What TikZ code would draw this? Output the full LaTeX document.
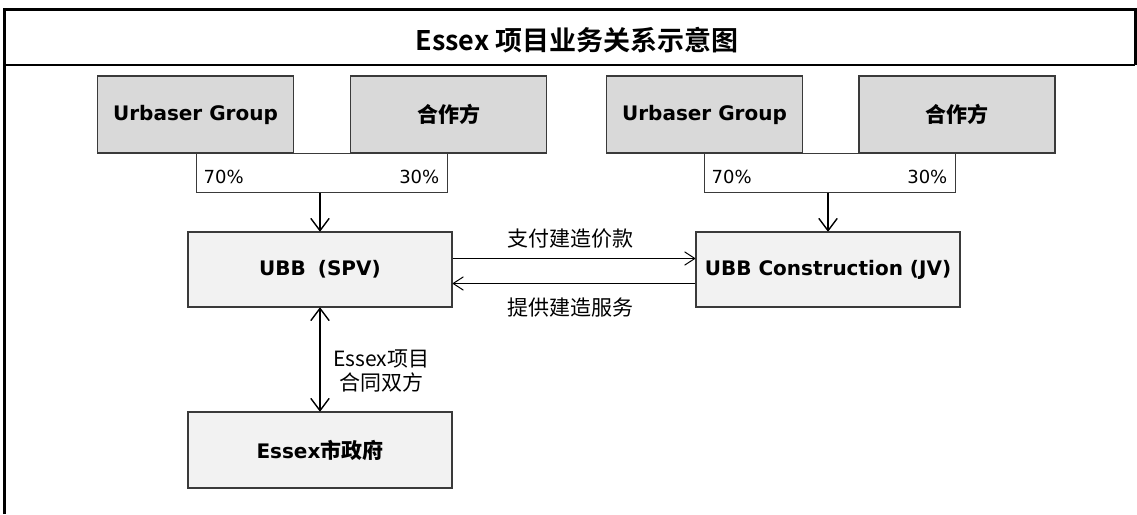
\documentclass[tikz,border=0pt]{standalone}
\usepackage{fontspec}
\setmainfont{DejaVu Sans}
\newfontfamily\cjk{Noto Sans CJK SC}
\newfontfamily\cjkb{Noto Sans CJK SC Bold}
\usetikzlibrary{arrows.meta}
\definecolor{topfill}{HTML}{D9D9D9}
\definecolor{midfill}{HTML}{F2F2F2}
\definecolor{boxline}{HTML}{3A3A3A}
\begin{document}
\begin{tikzpicture}[x=1pt,y=-1pt,
  topbox/.style={draw=boxline,line width=1.3pt,fill=topfill,minimum width=196pt,minimum height=77pt,inner sep=0pt,font=\fontsize{20}{22}\selectfont\bfseries},
  midbox/.style={draw=boxline,line width=1.3pt,fill=midfill,minimum width=264pt,minimum height=75pt,inner sep=0pt,font=\fontsize{20}{22}\selectfont\bfseries},
  pctbox/.style={draw=boxline,line width=1pt,fill=white,minimum width=251pt,minimum height=39pt,inner sep=0pt},
  pct/.style={font=\fontsize{18}{20}\selectfont,inner sep=0pt},
  lbl/.style={font=\cjk\fontsize{21}{24}\selectfont,inner sep=0pt,align=center},
  vline/.style={line width=1.4pt},
  hline/.style={line width=1pt},
]
\tikzset{
  vtip/.tip={Straight Barb[length=12pt,width=18pt,round]},
  htip/.tip={Straight Barb[length=10pt,width=13pt,round]},
}
\useasboundingbox (0,0) rectangle (1137,514);
% frame
\draw[line width=3pt] (4,514) -- (4,9) -- (1135,9) -- (1135,65);
\draw[line width=2pt] (4,65) -- (1135,65);
\node (title) at (577,40) {\cjkb\fontsize{27}{30}\selectfont Essex 项目业务关系示意图};
% top boxes
\node[topbox] (ug1) at (195.5,114.5) {Urbaser Group};
\node[topbox] (hz1) at (448.5,114.5) {\cjkb\fontsize{21}{23}\selectfont 合作方};
\node[topbox] (ug2) at (704.5,114.5) {Urbaser Group};
\node[topbox] (hz2) at (957,114.5) {\cjkb\fontsize{21}{23}\selectfont 合作方};
% percentage boxes
\node[pctbox] (pb1) at (321.5,172.5) {};
\node[pctbox] (pb2) at (829.5,172.5) {};
\node[pct,anchor=west] (p70a) at ([xshift=8pt,yshift=-4pt]pb1.west) {70\%};
\node[pct,anchor=east] (p30a) at ([xshift=-8pt,yshift=-4pt]pb1.east) {30\%};
\node[pct,anchor=west] (p70b) at ([xshift=8pt,yshift=-4pt]pb2.west) {70\%};
\node[pct,anchor=east] (p30b) at ([xshift=-8pt,yshift=-4pt]pb2.east) {30\%};
% middle boxes
\node[midbox] (spv) at (320,269.5) {UBB\hspace{0.6em}(SPV)};
\node[midbox] (jv) at (828,269.5) {UBB Construction (JV)};
\node[midbox,minimum height=76pt] (gov) at (320,450) {Essex{\cjkb\fontsize{21}{23}\selectfont 市政府}};
% arrows
\draw[vline,-vtip] (spv.north |- pb1.south) -- (spv.north);
\draw[vline,-vtip] (jv.north |- pb2.south) -- (jv.north);
\draw[hline,-htip] ([yshift=11pt]spv.east) -- ([yshift=11pt]jv.west);
\draw[hline,-htip] ([yshift=-14pt]jv.west) -- ([yshift=-14pt]spv.east);
\draw[vline,vtip-vtip] (spv.south) -- (gov.north);
% labels
\node[lbl] (pay) at (570,239) {支付建造价款};
\node[lbl] (svc) at (570,308) {提供建造服务};
\node[lbl] (con) at (381,371) {Essex项目\\合同双方};
\end{tikzpicture}
\end{document}
